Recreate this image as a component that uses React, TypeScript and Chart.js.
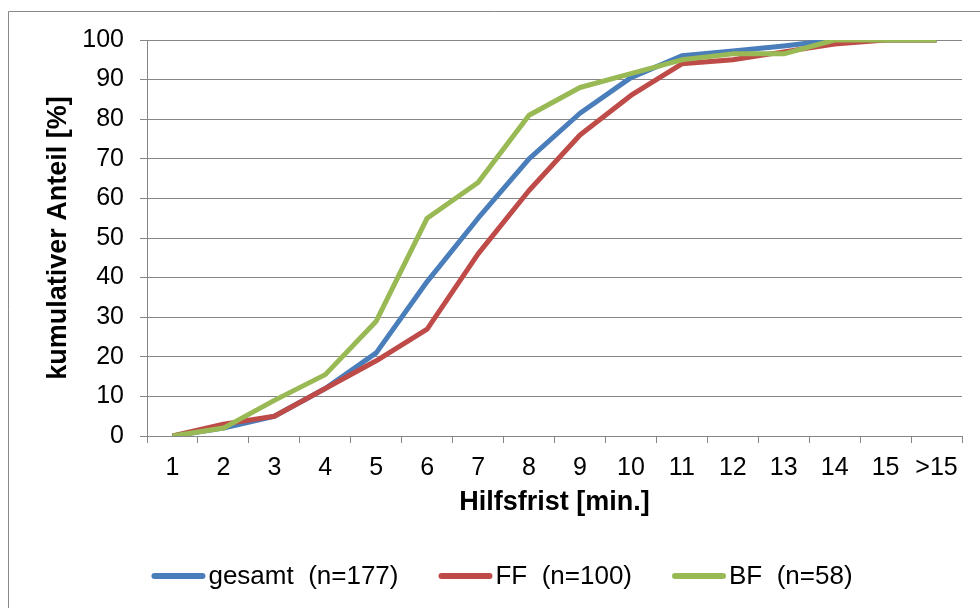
import React, { useEffect, useRef } from "react";
import { Chart, registerables } from "chart.js";

Chart.register(...registerables);

const categories = ["1", "2", "3", "4", "5", "6", "7", "8", "9", "10", "11", "12", "13", "14", "15", ">15"];
const gesamt = [0, 2, 5, 12, 21, 39, 55, 70, 81.5, 90.5, 96, 97.2, 98.5, 100, 100, 100];
const ff = [0, 3, 5, 12, 19, 27, 46, 62, 76, 86, 94, 95, 97, 99, 100, 100];
const bf = [0, 2, 9, 15.5, 29, 55, 64, 81, 88, 91.5, 95, 96.5, 96.5, 100, 100, 100];
const seriesLabels = ["gesamt  (n=177)", "FF  (n=100)", "BF  (n=58)"];
const seriesColors = ["#4A7EBB", "#BE4B48", "#98B954"];
const xTitle = "Hilfsfrist [min.]";
const yTitle = "kumulativer Anteil [%]";

const FONT = "'Liberation Sans', Arial, sans-serif";

const framePlugin = {
  id: "frame",
  afterDraw(chart: any) {
    const ctx = chart.ctx;
    ctx.save();
    ctx.strokeStyle = "#898989";
    ctx.lineWidth = 1;
    ctx.beginPath();
    ctx.moveTo(8.5, 608);
    ctx.lineTo(8.5, 11.5);
    ctx.lineTo(980, 11.5);
    ctx.stroke();

    // legend
    ctx.font = `26px ${FONT}`;
    ctx.textBaseline = "middle";
    ctx.textAlign = "left";
    const sw = 54;
    const gap = 3;
    const itemGap = 40;
    const items = chart.data.datasets.map((d: any) => ({
      label: d.label,
      color: d.borderColor,
      w: sw + gap + ctx.measureText(d.label).width,
    }));
    const total = items.reduce((s: number, it: any) => s + it.w, 0) + itemGap * (items.length - 1);
    let x = 502 - total / 2;
    const y = 577;
    for (const it of items) {
      ctx.strokeStyle = it.color;
      ctx.lineWidth = 6;
      ctx.lineCap = "round";
      ctx.beginPath();
      ctx.moveTo(x + 3, y - 1);
      ctx.lineTo(x + sw - 3, y - 1);
      ctx.stroke();
      ctx.fillStyle = "#000";
      ctx.fillText(it.label, x + sw + gap, y);
      x += it.w + itemGap;
    }
    ctx.restore();
  },
};

export default function App() {
  const ref = useRef<HTMLCanvasElement | null>(null);
  useEffect(() => {
    if (!ref.current) return;
    const data = [gesamt, ff, bf];
    const chart = new Chart(ref.current, {
      type: "line",
      data: {
        labels: categories,
        datasets: data.map((d, i) => ({
          label: seriesLabels[i],
          data: d,
          order: data.length - 1 - i,
          borderColor: seriesColors[i],
          backgroundColor: seriesColors[i],
          borderWidth: 5,
          pointRadius: 0,
          tension: 0,
          fill: false,
          borderJoinStyle: "round" as const,
        })),
      },
      options: {
        responsive: false,
        animation: false,
        devicePixelRatio: 1,
        layout: { padding: { left: 0, top: 40, right: 18, bottom: 82 } },
        plugins: {
          legend: { display: false },
          tooltip: { enabled: false },
        },
        scales: {
          x: {
            type: "category",
            offset: true,
            grid: {
              offset: true,
              drawOnChartArea: false,
              drawTicks: true,
              tickLength: 7,
              color: "#868686",
              lineWidth: 1,
            },
            border: { display: true, color: "#868686", width: 1 },
            ticks: {
              autoSkip: false,
              maxRotation: 0,
              minRotation: 0,
              padding: 10,
              color: "#000",
              font: { family: FONT, size: 25 },
            },
            title: {
              display: true,
              text: xTitle,
              color: "#000",
              font: { family: FONT, size: 27, weight: "bold" },
              padding: { top: 0, bottom: 7 },
            },
            afterFit(scale: any) {
              scale.height = 90;
            },
          },
          y: {
            min: 0,
            max: 100,
            ticks: {
              stepSize: 10,
              padding: 16,
              color: "#000",
              font: { family: FONT, size: 25 },
            },
            grid: {
              color: "#868686",
              lineWidth: 1,
              drawTicks: true,
              tickLength: 7,
            },
            border: { display: true, color: "#868686", width: 1 },
            title: {
              display: true,
              text: yTitle,
              color: "#000",
              font: { family: FONT, size: 27, weight: "bold" },
              padding: { top: 42, bottom: 0 },
            },
            afterFit(scale: any) {
              scale.width = 147;
            },
          },
        },
      },
      plugins: [framePlugin],
    });
    return () => chart.destroy();
  }, []);
  return (
    <div style={{ position: "absolute", left: 0, top: 0, width: 980, height: 608, background: "#fff" }}>
      <canvas ref={ref} width={980} height={608} style={{ display: "block", width: 980, height: 608 }} />
    </div>
  );
}
